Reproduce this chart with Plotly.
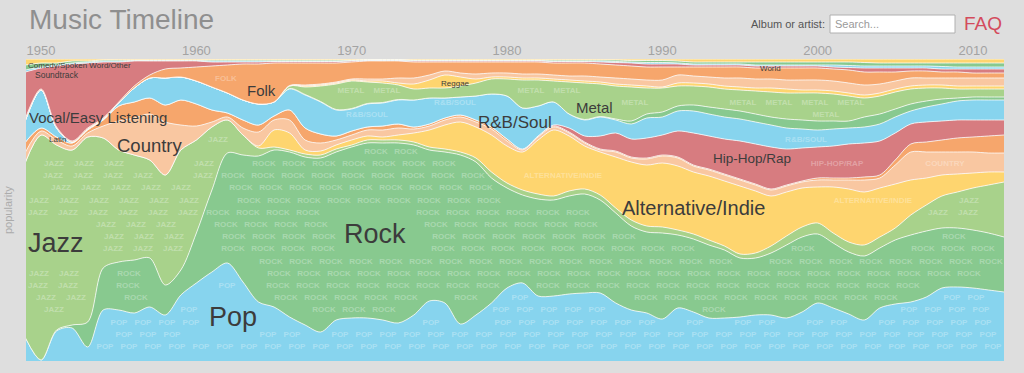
import numpy as np
import plotly.graph_objects as go

years = list(range(1949, 2013))

genres = ["Pop", "Rock", "Jazz", "Alternative/Indie", "Country", "Latin", "Hip-Hop/Rap",
          "R&B/Soul", "Dance/Electronic", "Metal", "Reggae", "Christian/Gospel", "Folk",
          "Vocal/Easy Listening", "World", "Soundtrack", "Comedy/Spoken Word/Other"]

pop = [23, 1, 30, 33, 14, 51, 51, 48, 54, 46, 66, 78, 89, 98, 79, 59, 54, 44, 36, 29, 41, 43, 43, 41, 38, 46,
       60, 58, 37, 46, 58, 73, 78, 65, 65, 67, 68, 68, 58, 51, 48, 42, 53, 49, 43, 43, 44, 46, 46, 43, 49, 58,
       53, 47, 41, 53, 57, 59, 64, 73, 74, 73, 71, 69]
rock = [0, 0, 1, 3, 25, 42, 48, 53, 49, 30, 25, 50, 82, 110, 127, 146, 157, 165, 168, 174, 168, 171, 175, 177,
        180, 170, 151, 151, 169, 153, 125, 100, 88, 97, 96, 98, 99, 93, 90, 84, 81, 86, 73, 73, 73, 68, 59, 57,
        62, 73, 75, 69, 65, 62, 64, 60, 64, 67, 66, 60, 59, 58, 57, 55]
jazz = [176, 225, 185, 175, 185, 130, 112, 105, 98, 110, 120, 93, 63, 33, 20, 8, 3, 2, 3, 3, 3, 2, 3, 3, 3, 3,
        3, 3, 3, 4, 6, 5, 5, 5, 4, 5, 5, 5, 5, 6, 6, 6, 5, 5, 5, 4, 4, 5, 7, 9, 10, 11, 10, 10, 11, 11, 12, 20,
        26, 32, 36, 42, 48, 55]
alternative = [0, 0, 0, 0, 0, 0, 0, 0, 0, 0, 0, 0, 0, 0, 0, 2, 17, 17, 4, 4, 4, 5, 4, 3, 5, 9, 17, 24, 30, 31,
               37, 37, 38, 54, 66, 55, 43, 43, 51, 58, 61, 64, 64, 62, 64, 65, 68, 62, 50, 44, 39, 36, 46, 53,
               53, 49, 44, 35, 27, 21, 18, 15, 13, 10]
country = [10, 4, 5, 4, 4, 12, 29, 37, 46, 53, 25, 14, 5, 3, 7, 14, 10, 13, 10, 8, 5, 5, 6, 7, 7, 4, 4, 5, 5,
           5, 6, 5, 2, 3, 3, 3, 3, 2, 5, 4, 6, 7, 8, 6, 6, 6, 6, 6, 6, 6, 6, 7, 7, 9, 12, 10, 19, 28, 26, 23,
           22, 21, 19, 19]
latin = [10, 3, 3, 3, 3, 6, 15, 16, 16, 17, 25, 22, 12, 4, 8, 7, 4, 10, 12, 9, 4, 4, 3, 4, 4, 2, 2, 2, 2, 2,
         2, 2, 1, 1, 1, 1, 1, 1, 1, 1, 1, 1, 1, 1, 1, 1, 1, 1, 1, 1, 1, 2, 2, 2, 3, 3, 5, 8, 10, 12, 14, 15,
         17, 18]
hiphop = [0, 0, 0, 0, 0, 0, 0, 0, 0, 0, 0, 0, 0, 0, 0, 0, 0, 0, 0, 0, 0, 0, 0, 0, 0, 0, 0, 0, 0, 0, 0, 0, 0,
          0, 1, 4, 6, 13, 18, 18, 20, 20, 26, 32, 33, 35, 38, 40, 42, 36, 33, 31, 32, 34, 34, 34, 27, 20, 20,
          19, 18, 17, 16, 15]
rnb = [22, 38, 9, 1, 1, 1, 3, 14, 20, 27, 23, 23, 23, 20, 20, 21, 14, 21, 33, 32, 26, 22, 23, 23, 24, 27, 26,
       20, 18, 24, 33, 43, 41, 30, 23, 14, 16, 19, 13, 15, 20, 18, 20, 22, 22, 22, 22, 22, 22, 21, 19, 17, 17,
       16, 16, 17, 16, 13, 15, 17, 19, 20, 20, 20]
dance = [0, 0, 0, 0, 0, 0, 0, 0, 0, 0, 0, 0, 0, 0, 0, 0, 0, 0.5, 0.5, 0.5, 0.5, 0.5, 0.5, 0.5, 0.5, 0, 0, 0,
         0, 0, 0, 0, 0, 0, 0, 0, 0.5, 0.5, 1, 3, 4, 5, 5, 6, 7, 8, 8, 8, 8, 9, 9, 9, 8, 7, 10, 10, 8, 7, 6, 5,
         3, 3, 3, 3]
metal = [0, 0, 0, 0, 0, 0, 0, 0, 0, 0, 0, 0, 0, 0, 0, 0, 0, 2.5, 7.5, 15.5, 25.5, 27.5, 21.5, 19.5, 14.5, 11,
         10, 10, 11, 13, 15, 17, 28, 26, 21, 32, 36.5, 32.5, 33, 34, 26, 24, 20, 19, 20, 20, 21, 23, 25, 26,
         27, 28, 27, 25, 19, 18, 17, 15, 13, 11, 9, 8, 8, 8]
reggae = [0, 0, 0, 0, 0, 0, 0, 0, 0, 0, 0, 0, 0, 0, 0, 0, 0, 0, 1, 1, 1, 1, 1, 2, 2, 5, 8, 13, 9, 4, 2, 2, 2,
          2, 2, 2, 2, 2, 2, 2, 2, 1, 3, 3, 3, 3, 3, 3, 4, 4, 3, 3, 3, 3, 3, 3, 3, 3, 3, 3, 3, 3, 3, 3]
gospel = [0, 0, 0, 0, 0, 0, 0, 0, 0, 0, 0, 0, 0, 0, 0, 0, 0, 0.5, 1, 1, 1, 1, 2, 2, 5, 6, 5, 4, 4, 5, 4, 4, 4,
          4, 4, 4, 5, 5, 6, 6, 6, 7, 8, 7, 7, 8, 9, 9, 9, 9, 10, 10, 10, 10, 10, 9, 8, 8, 7, 7, 8, 8, 8, 8]
folk = [2, 1, 1, 1, 1, 1, 1, 2, 3, 9, 9, 14, 21, 28, 36, 40, 39, 22.5, 22, 21, 19, 17, 18, 18, 17, 16, 13, 9,
        11, 12, 11, 11, 12, 12, 12, 13, 13, 13, 13, 13, 13, 13, 8, 9, 10, 11, 11, 11, 11, 12, 12, 12, 12, 13,
        13, 12, 9, 7, 7, 6, 6, 5, 5, 5]
vocal = [46, 21, 61, 77, 65, 56, 40, 25, 14, 8, 7, 6, 4, 3, 2, 2, 1.5, 1.5, 1.5, 1.5, 1.5, 1, 0.5, 0.5, 0.5,
         1, 1, 1, 1, 1, 1, 1, 1, 1, 1.5, 1.5, 1.5, 2, 2.5, 3, 3, 3, 3, 2, 2, 2, 2, 2, 2, 2, 2, 2, 2, 2.5, 4,
         4, 4, 3, 3, 3, 3, 4, 4, 4]
world = [2, 1, 1, 1, 1, 1, 1, 0.5, 0.5, 0.5, 0.5, 0.5, 1, 1, 1, 1, 0.5, 0.5, 0.5, 0.5, 0.5, 0.5, 0.5, 0.5,
         0.5, 0.5, 0.5, 0.5, 0.5, 0.5, 0.5, 0.5, 0.5, 0.5, 0.5, 0.5, 0.5, 1, 1, 1, 1.5, 1.5, 1, 1, 1, 1, 1, 1,
         1, 1, 1, 1, 2, 2, 2, 2, 2, 2, 2, 2.5, 2, 2, 2, 2]
soundtrack = [5, 4, 2, 2, 1, 1, 1, 0.5, 0.5, 0.5, 0.5, 0.5, 1, 1, 1, 1, 1, 1, 1, 1, 1, 0.5, 0.5, 0.5, 0.5,
              0.5, 0.5, 0.5, 0.5, 0.5, 0.5, 0.5, 0.5, 0.5, 1, 1, 1, 1, 1.5, 1.5, 2, 2, 2, 2, 2, 2, 2, 3, 3, 3,
              3, 3, 3, 3.5, 3.5, 3, 3, 3, 3, 3.5, 4, 4, 4, 4]
comedy = [6, 4, 4, 2, 2, 1, 1, 1, 1, 1, 1, 1, 1, 1, 1, 1, 1, 1, 1, 1, 1, 1, 0.5, 0.5, 0.5, 1, 1, 1, 1, 1, 1,
          1, 1, 1, 1, 1, 1, 1, 1, 1.5, 1.5, 1.5, 2, 3, 3, 3, 3, 3, 3, 3, 3, 3, 3, 3, 3.5, 4, 4, 4, 4, 4, 4, 4,
          4, 4]

series = [pop, rock, jazz, alternative, country, latin, hiphop, rnb, dance, metal, reggae, gospel, folk,
          vocal, world, soundtrack, comedy]

BLUE = "#87d4ee"
GREEN = "#88c98f"
LGREEN = "#a8d28b"
YELLOW = "#fed56f"
PEACH = "#f9c7a1"
ORANGE = "#f6a66c"
RED = "#d77c80"
colors = [BLUE, GREEN, LGREEN, YELLOW, PEACH, ORANGE, RED,
          BLUE, GREEN, LGREEN, YELLOW, PEACH, ORANGE, RED,
          BLUE, GREEN, YELLOW]

# genre labels: (text, left-year, y-percent, font size)
label_text = ["Jazz", "Rock", "Pop", "Alternative/Indie", "Country", "Vocal/Easy Listening", "Folk",
              "R&B/Soul", "Metal", "Hip-Hop/Rap", "Reggae", "World", "Latin", "Soundtrack",
              "Comedy/Spoken Word/Other"]
label_x = [1949.05, 1969.4, 1960.7, 1987.3, 1954.75, 1949.1, 1963.15, 1978.0, 1984.3, 1993.15,
           1975.6, 1996.15, 1950.35, 1949.5, 1949.05]
label_y = [39.1, 42.0, 14.6, 50.7, 71.5, 80.5, 89.7, 79.1, 84.1, 66.9, 92.0, 96.7, 73.5, 94.7, 98.0]
label_size = [27, 27, 27, 20, 18.5, 15, 15, 17, 15, 13.5, 8, 8, 8, 8.5, 8]

year_ticks = [1950, 1960, 1970, 1980, 1990, 2000, 2010]

FONT = "Liberation Sans, Arial, sans-serif"
X0, X1 = 1949.03, 2012.0

# plot-area geometry in page pixels
W0, W1, T, B = 26.0, 1004.0, 59.0, 361.0

def yr_to_px(x):
    return W0 + (x - X0) / (X1 - X0) * (W1 - W0)

def px_to_yr(p):
    return X0 + (p - W0) / (W1 - W0) * (X1 - X0)

def pct_to_py(v):
    return B - v / 100.0 * (B - T)

fig = go.Figure()
for i, (name, vals, col) in enumerate(zip(genres, series, colors)):
    fig.add_trace(go.Scatter(
        x=years, y=vals, name=name, mode="lines",
        stackgroup="one", groupnorm="percent" if i == 0 else None,
        line=dict(width=0.9, color="rgba(255,255,255,0.85)", shape="spline", smoothing=0.9),
        fillcolor=col, hoverinfo="skip", showlegend=False,
    ))

# boxes of the genre labels (page px) so the texture words keep clear of them
label_boxes = []
for t, x, y, s in zip(label_text, label_x, label_y, label_size):
    lx = yr_to_px(x)
    ly = pct_to_py(y)
    label_boxes.append((lx - 3, lx + 0.56 * s * len(t) + 3, ly - 0.62 * s - 2, ly + 0.62 * s + 2))

# faint repeated genre names inside each band (background texture)
arr = np.array(series, dtype=float)
tops = np.cumsum(arr, axis=0) / arr.sum(axis=0) * 100.0
bots = np.vstack([np.zeros(arr.shape[1]), tops[:-1]])
xs_px = np.arange(W0, W1 + 1, 1.0)
xs_yr = px_to_yr(xs_px)
CHW = 6.0
rows = [66.4 + 12.2 * r for r in range(25)]
wm_x, wm_y, wm_t = [], [], []
for k, g in enumerate(genres):
    word = g.upper()
    top_px = pct_to_py(np.interp(xs_yr, years, tops[k]))
    bot_px = pct_to_py(np.interp(xs_yr, years, bots[k]))
    period = (len(word) + 1) * CHW
    width = len(word) * CHW
    for r, yr in enumerate(rows):
        phase = (r % 2) * period / 2.0 - (r % 3) * 7.0
        xc = W0 + phase + width / 2.0
        while xc < W1:
            a, b = xc - width / 2.0, xc + width / 2.0
            ok = a >= W0 and b <= W1
            if ok:
                m = (xs_px >= a) & (xs_px <= b)
                ok = bool(np.all(top_px[m] < yr - 4.8) and np.all(bot_px[m] > yr + 4.8))
            if ok:
                for (bx0, bx1, by0, by1) in label_boxes:
                    if a < bx1 and b > bx0 and yr - 4 < by1 and yr + 4 > by0:
                        ok = False
                        break
            if ok:
                wm_x.append(px_to_yr(xc))
                wm_y.append((B - yr) / (B - T) * 100.0)
                wm_t.append(word)
            xc += period

fig.add_trace(go.Scatter(
    x=wm_x, y=wm_y, text=wm_t, mode="text", hoverinfo="skip", showlegend=False,
    textfont=dict(family=FONT, size=8, color="rgba(255,255,255,0.3)", weight="bold"),
))

annotations = []
for t, x, y, s in zip(label_text, label_x, label_y, label_size):
    annotations.append(dict(x=x, y=y, xref="x", yref="y", text=t, showarrow=False,
                            xanchor="left", yanchor="middle",
                            font=dict(family=FONT, size=s, color="#3c3c3c")))

def px(xp):
    return (xp - W0) / (W1 - W0)
def py(yp):
    return (B - yp) / (B - T)

annotations += [
    dict(x=px(27), y=py(20), xref="paper", yref="paper", text="Music Timeline", showarrow=False,
         xanchor="left", yanchor="middle", font=dict(family=FONT, size=28, color="#8f8f8f")),
    dict(x=px(827), y=py(24), xref="paper", yref="paper", text="Album or artist:", showarrow=False,
         xanchor="right", yanchor="middle", font=dict(family=FONT, size=11, color="#555555")),
    dict(x=px(833), y=py(24), xref="paper", yref="paper", text="Search...", showarrow=False,
         xanchor="left", yanchor="middle", font=dict(family=FONT, size=11, color="#9a9a9a")),
    dict(x=px(1004), y=py(24), xref="paper", yref="paper", text="FAQ", showarrow=False,
         xanchor="right", yanchor="middle", font=dict(family=FONT, size=19, color="#d44b5c")),
    dict(x=px(8), y=py(210), xref="paper", yref="paper", text="popularity", showarrow=False,
         textangle=-90, xanchor="center", yanchor="middle", font=dict(family=FONT, size=11, color="#ababab")),
]

shapes = [dict(type="rect", xref="paper", yref="paper", x0=px(830), x1=px(955), y0=py(33), y1=py(15),
               fillcolor="white", line=dict(color="#b0b0b0", width=1))]

fig.update_layout(
    width=1024, height=373,
    margin=dict(l=26, r=20, t=59, b=12),
    paper_bgcolor="#dedede", plot_bgcolor="#dedede",
    xaxis=dict(range=[X0, X1], side="top", tickvals=year_ticks,
               ticktext=[str(v) for v in year_ticks], showgrid=False, zeroline=False, showline=False,
               ticks="", tickfont=dict(family=FONT, size=13, color="#a3a3a3")),
    yaxis=dict(range=[0, 100], visible=False, fixedrange=True),
    annotations=annotations, shapes=shapes,
    showlegend=False,
)

fig.write_html("out.html", config={"displayModeBar": False},
               post_script="document.body.style.margin='0';document.body.style.background='#dedede';"
                           "document.body.style.overflow='hidden';")
